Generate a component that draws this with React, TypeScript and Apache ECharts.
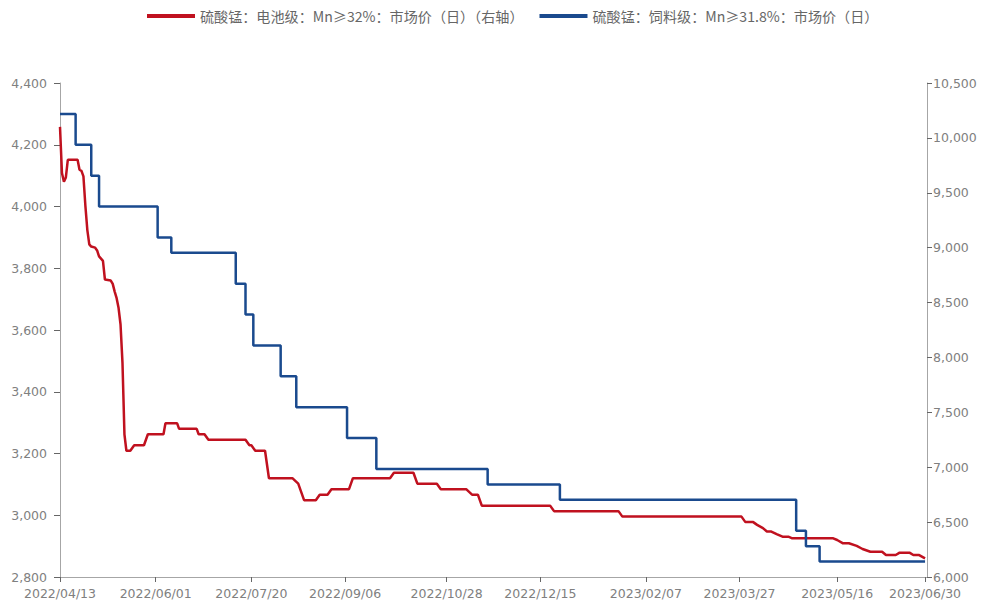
import React, { useEffect, useRef } from "react";
import * as echarts from "echarts";

// X-axis tick labels
const xTickDates = [
  "2022-04-13", "2022-06-01", "2022-07-20", "2022-09-06", "2022-10-28",
  "2022-12-15", "2023-02-07", "2023-03-27", "2023-05-16", "2023-06-30",
];

// 硫酸锰：饲料级 (left axis) — change points of a step series
const feedDates = [
  "2022-04-13", "2022-04-21", "2022-04-29", "2022-05-03", "2022-06-02",
  "2022-06-09", "2022-07-12", "2022-07-17", "2022-07-21", "2022-08-04",
  "2022-08-12", "2022-09-07", "2022-09-22", "2022-11-18", "2022-12-25",
  "2023-04-25", "2023-04-30", "2023-05-07", "2023-06-30",
];
const feedValues = [
  4300, 4200, 4100, 4000, 3900,
  3850, 3750, 3650, 3550, 3450,
  3350, 3250, 3150, 3100, 3050,
  2950, 2900, 2850, 2850,
];

// 硫酸锰：电池级 (right axis)
const batteryDates = [
  "2022-04-13", "2022-04-14", "2022-04-15", "2022-04-16", "2022-04-17",
  "2022-04-22", "2022-04-23", "2022-04-24", "2022-04-25", "2022-04-26",
  "2022-04-27", "2022-04-28", "2022-04-29", "2022-05-01", "2022-05-02",
  "2022-05-03", "2022-05-05", "2022-05-06", "2022-05-09", "2022-05-10",
  "2022-05-11", "2022-05-12", "2022-05-13", "2022-05-14", "2022-05-15",
  "2022-05-16", "2022-05-17", "2022-05-19", "2022-05-21", "2022-05-26",
  "2022-05-28", "2022-06-05", "2022-06-06", "2022-06-12", "2022-06-13",
  "2022-06-22", "2022-06-23", "2022-06-26", "2022-06-28", "2022-07-17",
  "2022-07-19", "2022-07-20", "2022-07-22", "2022-07-27", "2022-07-29",
  "2022-08-10", "2022-08-13", "2022-08-16", "2022-08-22", "2022-08-24",
  "2022-08-28", "2022-08-30", "2022-09-08", "2022-09-10", "2022-09-29",
  "2022-10-01", "2022-10-11", "2022-10-13", "2022-10-23", "2022-10-25",
  "2022-11-07", "2022-11-10", "2022-11-13", "2022-11-15", "2022-12-20",
  "2022-12-22", "2023-01-24", "2023-01-26", "2023-03-28", "2023-03-30",
  "2023-04-03", "2023-04-05", "2023-04-08", "2023-04-10", "2023-04-12",
  "2023-04-15", "2023-04-18", "2023-04-21", "2023-04-23", "2023-05-14",
  "2023-05-16", "2023-05-19", "2023-05-22", "2023-05-26", "2023-05-29",
  "2023-06-02", "2023-06-08", "2023-06-10", "2023-06-15", "2023-06-17",
  "2023-06-22", "2023-06-24", "2023-06-27", "2023-06-30",
];
const batteryValues = [
  10100, 9680, 9600, 9640, 9800,
  9800, 9710, 9700, 9650, 9380,
  9160, 9030, 9010, 9000, 8975,
  8920, 8880, 8710, 8700, 8670,
  8600, 8540, 8450, 8300, 7950,
  7300, 7150, 7150, 7200, 7200,
  7300, 7300, 7400, 7400, 7350,
  7350, 7300, 7300, 7250, 7250,
  7200, 7200, 7150, 7150, 6900,
  6900, 6850, 6700, 6700, 6750,
  6750, 6800, 6800, 6900, 6900,
  6950, 6950, 6850, 6850, 6800,
  6800, 6750, 6750, 6650, 6650,
  6600, 6600, 6550, 6550, 6500,
  6500, 6475, 6445, 6415, 6415,
  6390, 6367, 6367, 6352, 6352,
  6337, 6307, 6307, 6283, 6255,
  6230, 6230, 6200, 6200, 6222,
  6222, 6200, 6200, 6170,
];

const ts = (s: string) => {
  const [y, m, d] = s.split("-").map(Number);
  return new Date(y, m - 1, d).getTime();
};
const pad = (n: number) => (n < 10 ? "0" + n : "" + n);
const fmtDate = (v: number) => {
  const d = new Date(v);
  return `${d.getFullYear()}/${pad(d.getMonth() + 1)}/${pad(d.getDate())}`;
};
const fmtNum = (v: number) => v.toLocaleString("en-US");

const RED = "#C0111F";
const BLUE = "#1A4A8E";
const AXIS = "#a6a6a6";
const LABEL = "#808080";
const FONT = "DejaVu Sans";

export default function App() {
  const ref = useRef<HTMLDivElement>(null);
  useEffect(() => {
    if (!ref.current) return;
    const chart = echarts.init(ref.current, null, { renderer: "svg" });
    const tickTs = xTickDates.map(ts);
    chart.setOption({
      animation: false,
      backgroundColor: "#ffffff",
      legend: {
        top: 9,
        left: 147,
        padding: 0,
        itemWidth: 48,
        itemHeight: 4,
        itemGap: 16,
        icon: "rect",
        textStyle: { color: "#666", fontSize: 14.1, fontFamily: "Noto Sans CJK SC" },
        data: [
          { name: "硫酸锰：电池级：Mn≥32%：市场价（日）（右轴）", itemStyle: { color: RED } },
          { name: "硫酸锰：饲料级：Mn≥31.8%：市场价（日）", itemStyle: { color: BLUE } },
        ],
      },
      grid: { left: 60, right: 58, top: 83, bottom: 23, containLabel: false },
      xAxis: {
        type: "value",
        min: ts("2022-04-13"),
        max: ts("2023-07-01"),
        scale: true,
        axisLine: { show: true, lineStyle: { color: AXIS, width: 1 } },
        axisTick: { show: true, length: 5, lineStyle: { color: "#666" }, customValues: tickTs },
        axisLabel: {
          customValues: tickTs,
          formatter: (v: number) => fmtDate(v),
          color: LABEL,
          fontSize: 12.5,
          fontFamily: FONT,
          margin: 10,
          hideOverlap: false,
        },
        splitLine: { show: false },
      },
      yAxis: [
        {
          type: "value",
          position: "left",
          min: 2800,
          max: 4400,
          interval: 200,
          axisLine: { show: true, lineStyle: { color: AXIS } },
          axisTick: { show: true, length: 6, lineStyle: { color: "#666" } },
          axisLabel: { color: LABEL, fontSize: 12.5, fontFamily: FONT, margin: 13, formatter: fmtNum },
          splitLine: { show: false },
        },
        {
          type: "value",
          position: "right",
          min: 6000,
          max: 10500,
          interval: 500,
          axisLine: { show: true, lineStyle: { color: AXIS } },
          axisTick: { show: true, length: 5, lineStyle: { color: "#666" } },
          axisLabel: { color: LABEL, fontSize: 12.5, fontFamily: FONT, margin: 6, formatter: fmtNum },
          splitLine: { show: false },
        },
      ],
      series: [
        {
          name: "硫酸锰：电池级：Mn≥32%：市场价（日）（右轴）",
          type: "line",
          yAxisIndex: 1,
          showSymbol: false,
          symbol: "none",
          lineStyle: { color: RED, width: 2.5 },
          itemStyle: { color: RED },
          data: batteryDates.map((d, i) => [ts(d), batteryValues[i]]),
        },
        {
          name: "硫酸锰：饲料级：Mn≥31.8%：市场价（日）",
          type: "line",
          yAxisIndex: 0,
          step: "end",
          showSymbol: false,
          symbol: "none",
          lineStyle: { color: BLUE, width: 2.5 },
          itemStyle: { color: BLUE },
          data: feedDates.map((d, i) => [ts(d), feedValues[i]]),
        },
      ],
    });
    return () => chart.dispose();
  }, []);
  return (
    <div
      ref={ref}
      style={{ position: "fixed", left: 0, top: 0, width: 985, height: 600, background: "#fff" }}
    />
  );
}
